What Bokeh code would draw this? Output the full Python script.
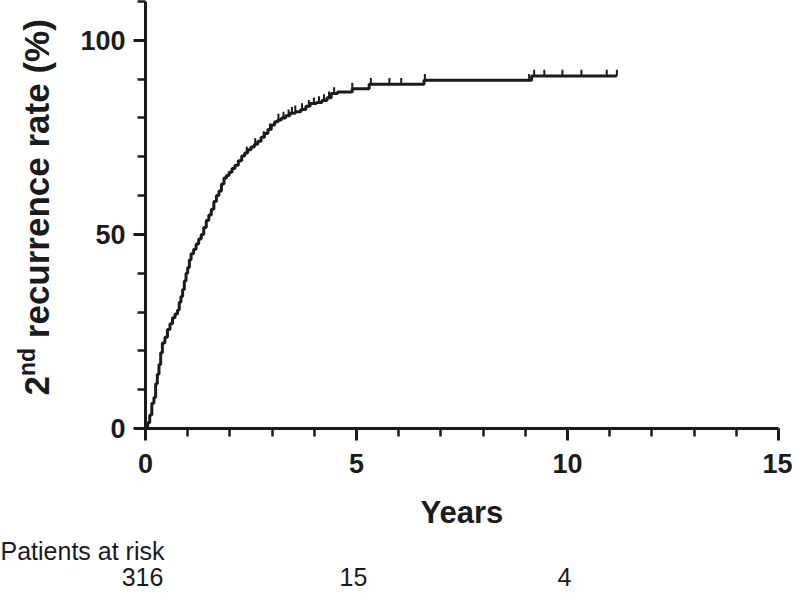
import numpy as np
from bokeh.plotting import figure
from bokeh.models import Range1d, ColumnDataSource, FixedTicker
from bokeh.core.properties import value
from bokeh.layouts import row, column
from bokeh.embed import file_html
from bokeh.resources import INLINE

# Step data (years, cumulative 2nd recurrence rate %)
years = [0.00, 0.05, 0.10, 0.15, 0.20, 0.24, 0.28, 0.32, 0.36, 0.40,
         0.46, 0.52, 0.58, 0.64, 0.70, 0.76, 0.80, 0.84, 0.88, 0.92,
         0.96, 1.00, 1.04, 1.08, 1.14, 1.20, 1.26, 1.32, 1.38, 1.44,
         1.50, 1.56, 1.62, 1.68, 1.74, 1.80, 1.86, 1.92, 1.98, 2.05,
         2.12, 2.20, 2.28, 2.35, 2.42, 2.50, 2.58, 2.66, 2.74, 2.82,
         2.90, 2.98, 3.06, 3.14, 3.22, 3.32, 3.42, 3.55, 3.68, 3.80,
         3.90, 4.05, 4.18, 4.30, 4.40, 4.55, 4.90, 5.30, 6.60, 9.15]
rate = [0.0, 1.5, 3.5, 6.5, 8.0, 11.5, 14.0, 16.5, 19.5, 22.0,
        23.5, 25.5, 27.0, 28.5, 29.5, 30.5, 32.5, 34.0, 35.8, 38.0,
        40.0, 41.5, 43.5, 45.0, 46.2, 47.5, 48.8, 50.0, 51.8, 53.6,
        55.0, 56.5, 58.5, 60.0, 61.2, 63.0, 64.5, 65.2, 66.0, 67.0,
        67.8, 69.0, 70.2, 71.0, 71.8, 72.5, 73.2, 74.0, 75.0, 76.0,
        77.0, 78.2, 79.0, 79.5, 80.0, 80.6, 81.2, 81.6, 82.2, 83.0,
        83.7, 84.0, 84.5, 85.2, 86.3, 86.7, 87.5, 88.7, 89.7, 90.8]
last_followup = 11.17

censor_years = [2.40, 2.60, 2.80, 2.95, 3.15, 3.27, 3.39, 3.47, 3.55, 3.71,
                3.87, 3.99, 4.11, 4.23, 4.35, 4.47, 4.90, 5.34, 5.78, 6.06,
                6.62, 9.09, 9.21, 9.45, 9.88, 10.33, 10.93, 11.17]

risk_title = "Patients at risk"
risk_years = [0, 5, 10]
risk_counts = ["316", "15", "4"]

x_major = [0, 5, 10, 15]
x_minor = list(range(0, 16))
y_major = [0, 50, 100]
y_minor = list(range(0, 111, 10))

y_label_parts = ["2", "nd", "recurrence rate (%)"]

FONT = "Liberation Sans"
INK = "#1b1b1b"

# ---- geometry (pixels) ----
TOTAL_W, TOTAL_H = 792, 591
LAB_W = 70
MAIN_H = 536
FRAME_LEFT, FRAME_RIGHT = 145, 778
FRAME_TOP, FRAME_BOTTOM = 1, 428
RISK_H = TOTAL_H - MAIN_H

# ---- main plot ----
p = figure(width=TOTAL_W - LAB_W, height=MAIN_H, output_backend="svg",
           toolbar_location=None,
           x_range=Range1d(0, 15), y_range=Range1d(0, 110),
           min_border_left=FRAME_LEFT - LAB_W,
           min_border_right=TOTAL_W - FRAME_RIGHT,
           min_border_top=FRAME_TOP,
           min_border_bottom=MAIN_H - FRAME_BOTTOM)
p.outline_line_color = None
p.grid.visible = False

sx = years + [last_followup]
sy = rate + [rate[-1]]
p.step(sx, sy, mode="after", line_width=3, line_color=INK)

yr = np.array(years)
idx = np.searchsorted(yr, np.array(censor_years), side="right") - 1
cy = np.array(rate)[idx]
p.segment(x0=censor_years, y0=cy, x1=censor_years, y1=cy + 1.6,
          line_width=2, line_color=INK)

for ax in (p.xaxis, p.yaxis):
    ax.axis_line_width = 3
    ax.axis_line_color = INK
    ax.major_tick_line_width = 3
    ax.major_tick_line_color = INK
    ax.minor_tick_line_width = 2.5
    ax.minor_tick_line_color = INK
    ax.major_tick_in = 0
    ax.major_tick_out = 12
    ax.minor_tick_in = 0
    ax.minor_tick_out = 8
    ax.major_label_text_font = FONT
    ax.major_label_text_font_style = "bold"
    ax.major_label_text_font_size = "27px"
    ax.major_label_text_color = INK

p.xaxis.ticker = FixedTicker(ticks=x_major, minor_ticks=x_minor)
p.yaxis.ticker = FixedTicker(ticks=y_major, minor_ticks=y_minor)
p.xaxis.major_label_standoff = 13
p.yaxis.major_label_standoff = 8

p.xaxis.axis_label = "Years"
p.xaxis.axis_label_text_font = FONT
p.xaxis.axis_label_text_font_style = "bold"
p.xaxis.axis_label_text_font_size = "31px"
p.xaxis.axis_label_text_color = INK
p.xaxis.axis_label_standoff = 19

# ---- left strip: rotated y-axis title with superscript ----
# its frame matches the main frame vertically; y data = pixels from canvas bottom
lab = figure(width=LAB_W, height=MAIN_H, output_backend="svg", toolbar_location=None,
             x_range=Range1d(0, LAB_W),
             y_range=Range1d(MAIN_H - FRAME_BOTTOM, MAIN_H - FRAME_TOP),
             x_axis_location=None, y_axis_location=None,
             min_border_left=0, min_border_right=0,
             min_border_top=FRAME_TOP, min_border_bottom=MAIN_H - FRAME_BOTTOM)
lab.grid.visible = False
lab.outline_line_color = None

big, small = 35, 23
base_x, sup_x = 36, 26          # anchors (text box sits right of anchor by ~0.45em)
start_y = MAIN_H - 395
adv_2 = 0.556 * big
adv_nd = 1.222 * small + 0.278 * big
common = dict(text_font=value(FONT), text_font_style="bold", text_color=INK,
              text_align="left", text_baseline="alphabetic", angle=np.pi / 2)
lab.text(x=[base_x], y=[start_y], text=[y_label_parts[0]],
         text_font_size=value(f"{big}px"), **common)
lab.text(x=[sup_x], y=[start_y + adv_2], text=[y_label_parts[1]],
         text_font_size=value(f"{small}px"), **common)
lab.text(x=[base_x], y=[start_y + adv_2 + adv_nd], text=[y_label_parts[2]],
         text_font_size=value(f"{big}px"), **common)

# ---- bottom strip: patients at risk, aligned with the main x scale ----
px_per_year = (FRAME_RIGHT - FRAME_LEFT) / 15.0
r_start = -FRAME_LEFT / px_per_year
r_end = (TOTAL_W - FRAME_LEFT) / px_per_year
risk = figure(width=TOTAL_W, height=RISK_H, output_backend="svg", toolbar_location=None,
              x_range=Range1d(r_start, r_end), y_range=Range1d(0, RISK_H),
              x_axis_location=None, y_axis_location=None, min_border=0)
risk.grid.visible = False
risk.outline_line_color = None

risk.text(x=[r_start], y=[MAIN_H + RISK_H - 550.5], text=[risk_title],
          text_font=value(FONT), text_font_size=value("25px"), text_color=INK,
          text_align="left", text_baseline="middle")
rsrc = ColumnDataSource(dict(x=risk_years, n=risk_counts,
                             y=[MAIN_H + RISK_H - 576] * len(risk_years)))
risk.text(x="x", y="y", text="n", source=rsrc, x_offset=-3,
          text_font=value(FONT), text_font_size=value("25px"), text_color=INK,
          text_align="center", text_baseline="middle")

layout = column(row(lab, p), risk)
open("out.html", "w").write(file_html(layout, INLINE))
